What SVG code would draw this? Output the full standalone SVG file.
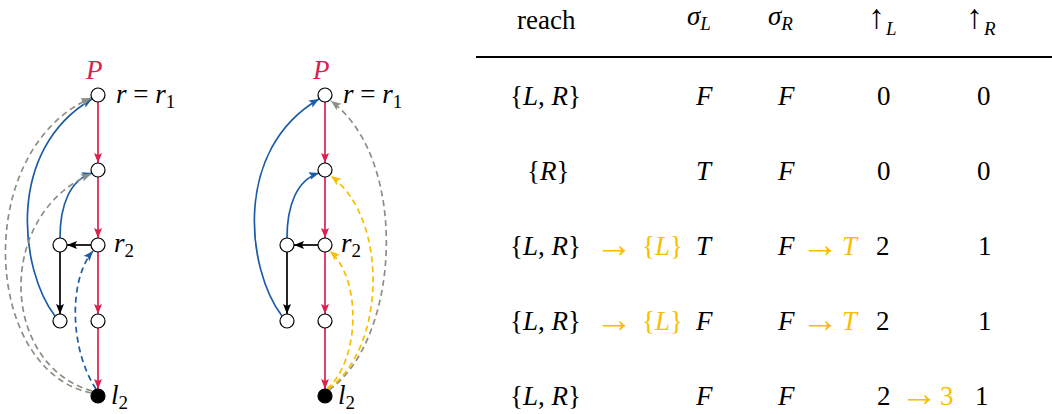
<svg xmlns="http://www.w3.org/2000/svg" width="1052" height="414" viewBox="0 0 1052 414" font-family="Liberation Serif, DejaVu Serif, serif">
<style>
.t{font-size:27px;fill:#000}
.i{font-style:italic}
.s{font-size:19px}
.a{font-size:38px}
.ua{font-size:34px}
.y{fill:#f7bf00}
.c{fill:#dc1f4e}
.n{fill:#fff;stroke:#000;stroke-width:1.2}
.f{fill:#000;stroke:#000;stroke-width:1.2}
.e{fill:none;stroke-width:1.7}
.red{stroke:#dc1f4e}
.blk{stroke:#000}
.blu{stroke:#1b5ca6}
.gry{stroke:#8e8e84;stroke-dasharray:6 4}
.ylw{stroke:#f7bf00;stroke-dasharray:6 4}
.bd{stroke:#1b5ca6;stroke-dasharray:6 4}
</style>
<defs>
<marker id="mr" markerUnits="userSpaceOnUse" markerWidth="11" markerHeight="9" refX="10" refY="4" orient="auto"><path d="M0,0 L10,4 L0,8 L2,4 z" fill="#dc1f4e"/></marker>
<marker id="mk" markerUnits="userSpaceOnUse" markerWidth="11" markerHeight="9" refX="10" refY="4" orient="auto"><path d="M0,0 L10,4 L0,8 L2,4 z" fill="#000"/></marker>
<marker id="mb" markerUnits="userSpaceOnUse" markerWidth="11" markerHeight="9" refX="10" refY="4" orient="auto"><path d="M0,0 L10,4 L0,8 L2,4 z" fill="#1b5ca6"/></marker>
<marker id="mg" markerUnits="userSpaceOnUse" markerWidth="11" markerHeight="9" refX="10" refY="4" orient="auto"><path d="M0,0 L10,4 L0,8 L2,4 z" fill="#8e8e84"/></marker>
<marker id="my" markerUnits="userSpaceOnUse" markerWidth="11" markerHeight="9" refX="10" refY="4" orient="auto"><path d="M0,0 L10,4 L0,8 L2,4 z" fill="#f7bf00"/></marker>
</defs>

<g id="connectors">
<path class="e red" d="M98,102 L98,163" marker-end="url(#mr)"/>
<path class="e red" d="M98,177 L98,238" marker-end="url(#mr)"/>
<path class="e red" d="M98,252 L98,314" marker-end="url(#mr)"/>
<path class="e red" d="M98,328 L98,389" marker-end="url(#mr)"/>
<path class="e blk" d="M91,245 L67,245" marker-end="url(#mk)"/>
<path class="e blk" d="M60,252 L60,314" marker-end="url(#mk)"/>
<path class="e blu" d="M55,316 C20,270 5,150 92,99" marker-end="url(#mb)"/>
<path class="e blu" d="M60,238 C60,205 70,180 92,173" marker-end="url(#mb)"/>
<path class="e bd" d="M96,389 C70,350 68,280 93,251" marker-end="url(#mb)"/>
<path class="e gry" d="M91,393 C-18,370 -28,150 91,98" marker-end="url(#mg)"/>
<path class="e gry" d="M92,391 C0,365 -5,215 91,174" marker-end="url(#mg)"/>
<path class="e red" d="M325,102 L325,163" marker-end="url(#mr)"/>
<path class="e red" d="M325,177 L325,238" marker-end="url(#mr)"/>
<path class="e red" d="M325,252 L325,314" marker-end="url(#mr)"/>
<path class="e red" d="M325,328 L325,389" marker-end="url(#mr)"/>
<path class="e blk" d="M318,245 L294,245" marker-end="url(#mk)"/>
<path class="e blk" d="M287,252 L287,314" marker-end="url(#mk)"/>
<path class="e blu" d="M282,316 C247,270 232,150 319,99" marker-end="url(#mb)"/>
<path class="e blu" d="M287,238 C287,205 297,180 319,173" marker-end="url(#mb)"/>
<path class="e gry" d="M329,390 C400,340 410,160 331,101" marker-end="url(#mg)"/>
<path class="e ylw" d="M328,389 C385,350 390,220 331,176" marker-end="url(#my)"/>
<path class="e ylw" d="M327,389 C360,360 362,280 330,251" marker-end="url(#my)"/>
</g>

<g id="L-r1"><circle class="n" cx="98" cy="95" r="7"/><text class="t i c" x="86" y="79">P</text><text class="t" x="116" y="103"><tspan class="i">r</tspan> = <tspan class="i">r</tspan><tspan class="s" dy="5">1</tspan></text></g>
<g id="L-n2"><circle class="n" cx="98" cy="170" r="7"/></g>
<g id="L-r2"><circle class="n" cx="98" cy="245" r="7"/><text class="t" x="114" y="252"><tspan class="i">r</tspan><tspan class="s" dy="5">2</tspan></text></g>
<g id="L-m"><circle class="n" cx="60" cy="245" r="7"/></g>
<g id="L-b"><circle class="n" cx="60" cy="321" r="7"/></g>
<g id="L-n4"><circle class="n" cx="98" cy="321" r="7"/></g>
<g id="L-l2"><circle class="f" cx="98" cy="396" r="7"/><text class="t" x="111" y="404"><tspan class="i">l</tspan><tspan class="s" dy="5">2</tspan></text></g>

<g id="R-r1"><circle class="n" cx="325" cy="95" r="7"/><text class="t i c" x="313" y="79">P</text><text class="t" x="343" y="103"><tspan class="i">r</tspan> = <tspan class="i">r</tspan><tspan class="s" dy="5">1</tspan></text></g>
<g id="R-n2"><circle class="n" cx="325" cy="170" r="7"/></g>
<g id="R-r2"><circle class="n" cx="325" cy="245" r="7"/><text class="t" x="341" y="252"><tspan class="i">r</tspan><tspan class="s" dy="5">2</tspan></text></g>
<g id="R-m"><circle class="n" cx="287" cy="245" r="7"/></g>
<g id="R-b"><circle class="n" cx="287" cy="321" r="7"/></g>
<g id="R-n4"><circle class="n" cx="325" cy="321" r="7"/></g>
<g id="R-l2"><circle class="f" cx="325" cy="396" r="7"/><text class="t" x="338" y="404"><tspan class="i">l</tspan><tspan class="s" dy="5">2</tspan></text></g>

<g id="table">
<text class="t" x="517" y="29">reach</text>
<text class="t" x="687" y="25"><tspan class="i">σ</tspan><tspan class="s i" dy="5">L</tspan></text>
<text class="t" x="768" y="25"><tspan class="i">σ</tspan><tspan class="s i" dy="5">R</tspan></text>
<text class="t ua" x="868" y="28">↑</text><text class="t s i" x="886" y="35">L</text>
<text class="t ua" x="966" y="28">↑</text><text class="t s i" x="984" y="35">R</text>
<line x1="476" y1="57" x2="1052" y2="57" stroke="#000" stroke-width="2"/>

<text class="t" x="510" y="105">{<tspan class="i">L</tspan>, <tspan class="i">R</tspan>}</text>
<text class="t i" x="696" y="105">F</text>
<text class="t i" x="778" y="105">F</text>
<text class="t" x="877" y="105">0</text>
<text class="t" x="977" y="105">0</text>

<text class="t" x="527" y="180">{<tspan class="i">R</tspan>}</text>
<text class="t i" x="696" y="180">T</text>
<text class="t i" x="778" y="180">F</text>
<text class="t" x="877" y="180">0</text>
<text class="t" x="977" y="180">0</text>

<text class="t" x="510" y="255">{<tspan class="i">L</tspan>, <tspan class="i">R</tspan>}</text>
<text class="t a y" x="595" y="257">→</text>
<text class="t y" x="642" y="255">{<tspan class="i">L</tspan>}</text>
<text class="t i" x="696" y="255">T</text>
<text class="t i" x="778" y="255">F</text>
<text class="t a y" x="801" y="257">→</text>
<text class="t i y" x="842" y="255">T</text>
<text class="t" x="876" y="255">2</text>
<text class="t" x="978" y="255">1</text>

<text class="t" x="510" y="330">{<tspan class="i">L</tspan>, <tspan class="i">R</tspan>}</text>
<text class="t a y" x="595" y="332">→</text>
<text class="t y" x="642" y="330">{<tspan class="i">L</tspan>}</text>
<text class="t i" x="696" y="330">F</text>
<text class="t i" x="778" y="330">F</text>
<text class="t a y" x="801" y="332">→</text>
<text class="t i y" x="842" y="330">T</text>
<text class="t" x="876" y="330">2</text>
<text class="t" x="978" y="330">1</text>

<text class="t" x="510" y="405">{<tspan class="i">L</tspan>, <tspan class="i">R</tspan>}</text>
<text class="t i" x="696" y="405">F</text>
<text class="t i" x="778" y="405">F</text>
<text class="t" x="877" y="405">2</text>
<text class="t a y" x="900" y="406">→</text>
<text class="t y" x="940" y="405">3</text>
<text class="t" x="975" y="405">1</text>
</g>
</svg>
